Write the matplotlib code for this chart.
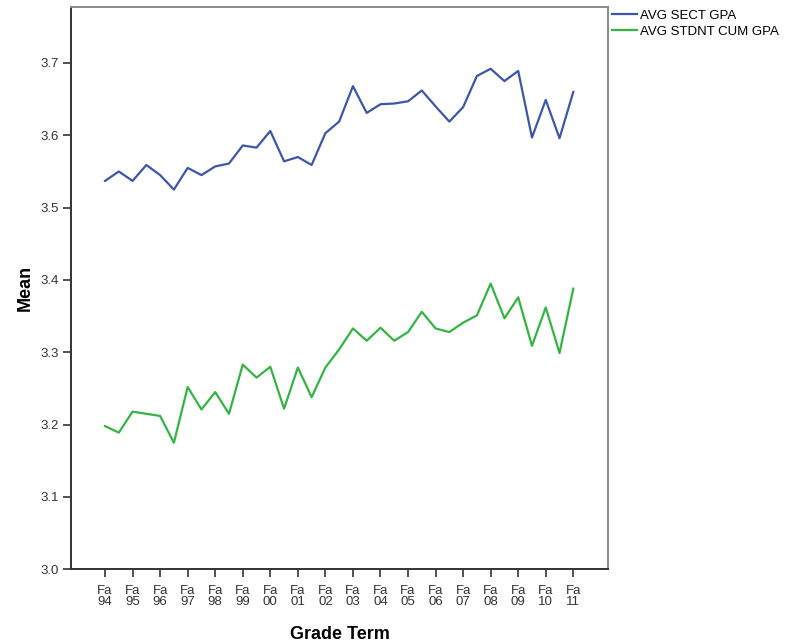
import matplotlib
matplotlib.use('Agg')
import matplotlib.pyplot as plt
import numpy as np

plt.rcParams['font.family'] = ['Liberation Sans', 'DejaVu Sans']

# one point per term (fall and spring), ticks on the fall terms
years = ['94', '95', '96', '97', '98', '99', '00', '01', '02',
         '03', '04', '05', '06', '07', '08', '09', '10', '11']
tick_labels = ['Fa\n' + y for y in years]

sect_gpa = [3.537, 3.550, 3.537, 3.559, 3.545, 3.525, 3.555, 3.545, 3.557,
            3.561, 3.586, 3.583, 3.606, 3.564, 3.570, 3.559, 3.603, 3.619,
            3.668, 3.631, 3.643, 3.644, 3.647, 3.662, 3.640, 3.619, 3.639,
            3.682, 3.692, 3.675, 3.689, 3.597, 3.649, 3.596, 3.660]

cum_gpa = [3.198, 3.189, 3.218, 3.215, 3.212, 3.175, 3.252, 3.221, 3.245,
           3.215, 3.283, 3.265, 3.280, 3.222, 3.279, 3.238, 3.279, 3.304,
           3.333, 3.316, 3.334, 3.316, 3.328, 3.356, 3.333, 3.328, 3.341,
           3.351, 3.395, 3.347, 3.376, 3.309, 3.362, 3.299, 3.388]

x = np.arange(len(sect_gpa))

fig = plt.figure(figsize=(7.86, 6.44), dpi=100)
ax = fig.add_axes([71.3 / 786, 1 - 569.3 / 644, (608 - 71.3) / 786, (569.3 - 7.3) / 644])

ax.plot(x, sect_gpa, color='#3d56aa', lw=1.6, label='AVG SECT GPA')
ax.plot(x, cum_gpa, color='#33b444', lw=1.6, label='AVG STDNT CUM GPA')

ax.set_xlim(-2.45, 36.52)
ax.set_ylim(3.0, 3.777)
ax.set_xticks(x[::2])
ax.set_xticklabels(tick_labels, linespacing=0.95)
ax.set_yticks(np.arange(3.0, 3.75, 0.1))
ax.set_yticklabels(['%.1f' % v for v in np.arange(3.0, 3.75, 0.1)])
ax.tick_params(direction='out', length=6, width=1.2, colors='#333333',
               labelsize=9.5, pad=3)
ax.tick_params(axis='x', pad=5)

for side in ['left', 'bottom']:
    ax.spines[side].set_color('#333333')
    ax.spines[side].set_linewidth(1.4)
for side in ['top', 'right']:
    ax.spines[side].set_color('#888888')
    ax.spines[side].set_linewidth(1.4)

ax.set_xlabel('Grade Term', fontsize=13, fontweight='bold', labelpad=13)
ax.set_ylabel('Mean', fontsize=13, fontweight='bold', labelpad=5)

ax.legend(loc='upper left', bbox_to_anchor=(0.99, 1.012), frameon=False,
          fontsize=9.5, handlelength=1.9, handletextpad=0.25,
          labelspacing=0.25, borderaxespad=0.3)

fig.savefig('out.png', dpi=100)
